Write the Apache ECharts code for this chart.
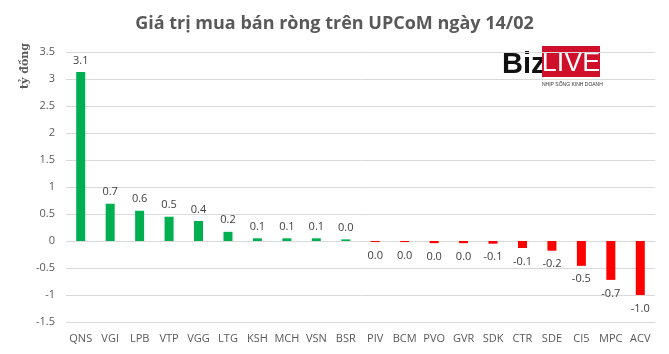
<!DOCTYPE html>
<html>
<head>
<meta charset="utf-8">
<script src="https://cdn.jsdelivr.net/npm/echarts@6/dist/echarts.min.js"></script>
<style>
  html, body { margin: 0; padding: 0; background: #fff; }
  #chart { width: 669px; height: 354px; }
</style>
</head>
<body>
<div id="chart"></div>
<script>
// ma co phieu va gia tri mua ban rong (ty dong)
const tickers = ['QNS', 'VGI', 'LPB', 'VTP', 'VGG', 'LTG', 'KSH', 'MCH', 'VSN', 'BSR',
    'PIV', 'BCM', 'PVO', 'GVR', 'SDK', 'CTR', 'SDE', 'CI5', 'MPC', 'ACV'];
const netValues = [3.13, 0.69, 0.56, 0.45, 0.37, 0.17, 0.05, 0.05, 0.05, 0.03,
    -0.02, -0.02, -0.04, -0.04, -0.05, -0.13, -0.18, -0.46, -0.72, -1.0];
const valueLabels = ['3.1', '0.7', '0.6', '0.5', '0.4', '0.2', '0.1', '0.1', '0.1', '0.0',
    '0.0', '0.0', '0.0', '0.0', '-0.1', '-0.1', '-0.2', '-0.5', '-0.7', '-1.0'];
const yTicks = [-1.5, 3.5, 0.5]; // min, max, interval

let chartDom = document.getElementById('chart'),
    myChart = echarts.init(chartDom),
    option;

let barData = netValues.map((v, i) => ({
    value: v,
    itemStyle: { color: v >= 0 ? '#00b050' : '#ff0000' },
    label: {
        position: v >= 0 ? 'top' : 'bottom',
        distance: v >= 0 ? 6 : 8,
        formatter: valueLabels[i]
    }
}));

option = {
    animation: false,
    textStyle: { fontFamily: 'Open Sans' },
    title: {
        text: 'Giá trị mua bán ròng trên UPCoM ngày 14/02',
        left: 'center',
        top: 10,
        textStyle: { fontSize: 18, fontWeight: 'bold', color: '#595959', fontFamily: 'Open Sans' }
    },
    grid: { left: 66, right: 14, top: 52, bottom: 32 },
    xAxis: {
        type: 'category',
        data: tickers,
        axisLine: { show: false, onZero: false },
        axisTick: { show: false },
        axisLabel: { color: '#595959', fontSize: 11, margin: 11, interval: 0 }
    },
    yAxis: {
        type: 'value',
        min: yTicks[0],
        max: yTicks[1],
        interval: yTicks[2],
        axisLine: { show: false },
        axisTick: { show: false },
        axisLabel: { color: '#595959', fontSize: 11, margin: 11 },
        splitLine: { lineStyle: { color: '#d9d9d9', width: 1 } }
    },
    series: [
        {
            type: 'bar',
            barWidth: 9,
            data: barData,
            label: {
                show: true,
                color: '#404040',
                fontSize: 11
            }
        }
    ],
    graphic: [
        {
            type: 'text',
            x: 20,
            y: 89,
            rotation: Math.PI / 2,
            style: { text: 'tỷ đồng', fontSize: 11, fontWeight: 'bold', fill: '#595959', fontFamily: 'DejaVu Serif', align: 'left', verticalAlign: 'top' }
        },
        // logo BizLIVE
        { type: 'rect', shape: { x: 503, y: 44, width: 99, height: 46 }, style: { fill: '#fff' } },
        {
            type: 'text', x: 502, y: 50,
            style: { text: 'Biz', fontSize: 29, fontWeight: 'bold', fill: '#111', fontFamily: 'Liberation Sans' }
        },
        { type: 'rect', shape: { x: 542, y: 46, width: 58, height: 31 }, style: { fill: '#d0102a' } },
        {
            type: 'text', x: 571, y: 50,
            style: { text: 'LIVE', fontSize: 27, fill: '#fff', fontFamily: 'Liberation Sans', align: 'center' }
        },
        {
            type: 'text', x: 542, y: 82,
            style: { text: 'NHỊP SỐNG KINH DOANH', fontSize: 5, fill: '#333', fontFamily: 'Liberation Sans' }
        }
    ]
};

option && myChart.setOption(option);
</script>
</body>
</html>
